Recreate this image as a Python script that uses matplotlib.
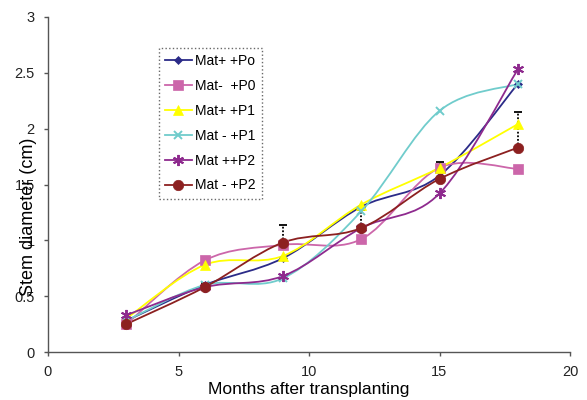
import numpy as np
import matplotlib
matplotlib.use("Agg")
import matplotlib.pyplot as plt
from matplotlib.path import Path
from matplotlib.patches import PathPatch
from matplotlib.lines import Line2D

plt.rcParams['font.family'] = ['Liberation Sans', 'DejaVu Sans']

# months after transplanting
months = [3, 6, 9, 12, 15, 18]

# stem diameter (cm) per treatment
mat_pos_po = [0.28, 0.60, 0.84, 1.30, 1.58, 2.40]
mat_neg_p0 = [0.25, 0.82, 0.96, 1.01, 1.65, 1.64]
mat_pos_p1 = [0.30, 0.78, 0.86, 1.32, 1.65, 2.04]
mat_neg_p1 = [0.28, 0.60, 0.66, 1.26, 2.16, 2.40]
mat_pp_p2 = [0.33, 0.58, 0.68, 1.11, 1.42, 2.53]
mat_neg_p2 = [0.25, 0.58, 0.98, 1.11, 1.55, 1.83]
p2_err = [0.02, 0.04, 0.16, 0.16, 0.15, 0.32]

labels = ['Mat+ +Po', 'Mat-  +P0', 'Mat+ +P1', 'Mat - +P1', 'Mat ++P2', 'Mat - +P2']
series = [mat_pos_po, mat_neg_p0, mat_pos_p1, mat_neg_p1, mat_pp_p2, mat_neg_p2]
colors = ['#2B2B88', '#CC66AA', '#FFFF00', '#70CCCC', '#8E2A8E', '#8C2020']
markers = ['D', 's', '^', 'x', (6, 2, 0), 'o']
msizes = [4.5, 6.5, 7, 6, 8, 7.5]


def smooth_path(x, y):
    # excel style smoothed line: cubic bezier through every point
    pts = np.column_stack([x, y]).astype(float)
    n = len(pts)
    verts = [pts[0]]
    codes = [Path.MOVETO]
    for i in range(n - 1):
        p0 = pts[i - 1] if i > 0 else pts[i]
        p1 = pts[i]
        p2 = pts[i + 1]
        p3 = pts[i + 2] if i + 2 < n else pts[i + 1]
        c1 = p1 + (p2 - p0) / 6.0
        c2 = p2 - (p3 - p1) / 6.0
        verts += [c1, c2, p2]
        codes += [Path.CURVE4] * 3
    return Path(verts, codes)


fig = plt.figure(figsize=(5.87, 4.0), dpi=100)
ax = fig.add_axes([48 / 587, 48 / 400, 522 / 587, 335 / 400])

handles = []
for vals, lab, col, mk, ms in zip(series, labels, colors, markers, msizes):
    ax.add_patch(PathPatch(smooth_path(months, vals), facecolor='none',
                           edgecolor=col, lw=1.3, zorder=2))
    mew = 1.4 if mk in ('x', (6, 2, 0)) else 0.5
    ax.plot(months, vals, linestyle='none', marker=mk, ms=ms, color=col,
            mec=col, mew=mew, zorder=3)
    handles.append(Line2D([], [], color=col, lw=1.3, marker=mk, ms=ms,
                          mec=col, mew=mew))

# upward error bars on Mat - +P2
tops = np.array(mat_neg_p2) + np.array(p2_err)
ax.vlines(months, mat_neg_p2, tops, colors='black', linestyles=(0, (1, 1)),
          lw=1.3, zorder=2.5)
ax.plot(months, tops, linestyle='none', marker='_', ms=6, mew=1.3,
        color='black', zorder=2.5)

ax.set_xlim(0, 20)
ax.set_ylim(0, 3)
ax.set_xticks([0, 5, 10, 15, 20])
ax.set_yticks([0, 0.5, 1, 1.5, 2, 2.5, 3])
ax.set_yticklabels(['0', '0.5', '1', '1.5', '2', '2.5', '3'])
for side in ['top', 'right']:
    ax.spines[side].set_visible(False)
for side in ['left', 'bottom']:
    ax.spines[side].set_color('#555555')
    ax.spines[side].set_linewidth(1.0)
ax.tick_params(direction='out', length=3, width=1, color='#555555',
               labelsize=10.5, labelcolor='#222222', pad=6.5)

ax.set_xlabel('Months after transplanting', fontsize=12.5, labelpad=1.8)
ax.set_ylabel('Stem diameter (cm)', fontsize=13)
ax.yaxis.set_label_coords(-0.021, 0.403)

leg = fig.legend(handles, labels, loc='upper left',
                 bbox_to_anchor=(159 / 587, 1 - 48 / 400), borderaxespad=0,
                 fontsize=10, frameon=True, fancybox=False, handlelength=1.9,
                 handletextpad=0.25, labelspacing=0.78, borderpad=0.45)
frame = leg.get_frame()
frame.set_edgecolor('#444444')
frame.set_linestyle(':')
frame.set_linewidth(1.0)

fig.savefig('out.png', dpi=100)
